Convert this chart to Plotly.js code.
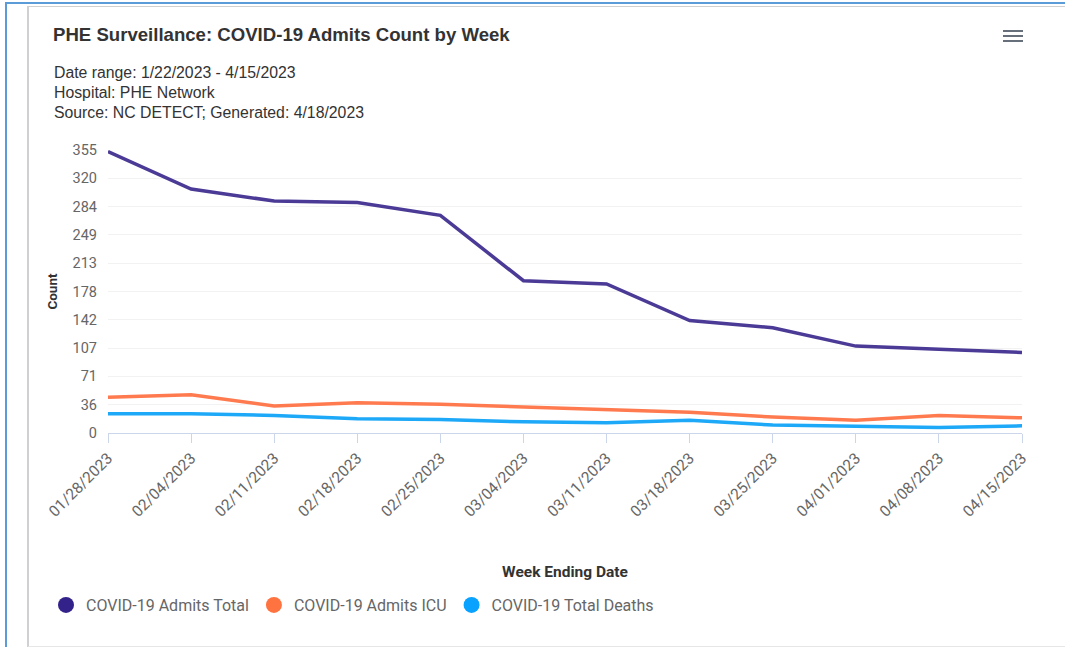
<!DOCTYPE html>
<html>
<head>
<meta charset="utf-8">
<script src="https://cdn.plot.ly/plotly-3.0.1.min.js"></script>
<style>
  html, body { margin: 0; padding: 0; background: #ffffff; width: 1065px; height: 647px; overflow: hidden; }
  #frame-blue { position: absolute; left: 5px; top: 2px; width: 1100px; height: 700px; border-top: 2px solid #5b9bd8; border-left: 2px solid #5b9bd8; box-sizing: border-box; }
  #frame-card { position: absolute; left: 27px; top: 6px; width: 1100px; height: 641px; border-top: 1px solid #d0d0d0; border-left: 2px solid #cfcfd4; border-bottom: 1px solid #e6e6e6; box-sizing: border-box; }
  #chart { position: absolute; left: 0; top: 0; width: 1065px; height: 647px; }
  .burger { position: absolute; left: 1003px; width: 20px; height: 2px; background: #666f7a; }
</style>
</head>
<body>
<div id="frame-blue"></div>
<div id="frame-card"></div>
<div id="chart"></div>
<div class="burger" style="top:30px"></div>
<div class="burger" style="top:35px"></div>
<div class="burger" style="top:40px"></div>
<script>
// ---- data ----
const weeks = ['01/28/2023','02/04/2023','02/11/2023','02/18/2023','02/25/2023','03/04/2023',
               '03/11/2023','03/18/2023','03/25/2023','04/01/2023','04/08/2023','04/15/2023'];
const admitsTotal = [353, 306, 291, 289, 273, 191, 187, 141, 132, 109, 105, 101];
const admitsICU   = [45, 48, 34, 38, 36, 33, 29, 26, 20, 16, 22, 19];
const totalDeaths = [24, 24, 22, 18, 17, 14, 13, 16, 10, 9, 7, 9];
const yTickVals = [0, 35.5, 71, 106.5, 142, 177.5, 213, 248.5, 284, 319.5, 355];
const yTickText = ['0','36','71','107','142','178','213','249','284','320','355'];
const seriesNames = ['COVID-19 Admits Total', 'COVID-19 Admits ICU', 'COVID-19 Total Deaths'];
const titleText = 'PHE Surveillance: COVID-19 Admits Count by Week';
const subtitleLines = ['Date range: 1/22/2023 - 4/15/2023', 'Hospital: PHE Network', 'Source: NC DETECT; Generated: 4/18/2023'];
const xTitle = 'Week Ending Date';
const yTitle = 'Count';

// ---- styles ----
const lineColors = ['#4b3a96', '#ff7b4f', '#1ea8f8'];
const legendColors = ['#33228a', '#ff7340', '#0aa2ff'];
const W = 1065, H = 647;
const plotL = 108, plotR = 1022, plotT = 150, plotB = 433;
const yPix = p => (plotB - p) / (plotB - plotT);
const xPix = p => (p - plotL) / (plotR - plotL);

const seriesData = [admitsTotal, admitsICU, totalDeaths];
const traces = [];
seriesData.forEach((vals, i) => {
  traces.push({
    type: 'scatter', mode: 'lines', x: weeks, y: vals, name: seriesNames[i],
    line: {color: lineColors[i], width: 3.5}, showlegend: false, legendgroup: 'g' + i,
    hoverinfo: 'x+y+name'
  });
});
seriesData.forEach((vals, i) => {
  traces.push({
    type: 'scatter', mode: 'markers', x: [null], y: [null], name: seriesNames[i],
    marker: {color: legendColors[i], size: 16, symbol: 'circle'}, legendgroup: 'g' + i,
    showlegend: true, hoverinfo: 'skip'
  });
});

const annotations = subtitleLines.map((t, i) => ({
  text: t, xref: 'paper', yref: 'paper',
  x: xPix(52), y: yPix([72, 92, 113][i]), xanchor: 'left', yanchor: 'middle',
  showarrow: false, font: {family: '"Liberation Sans", Arial, sans-serif', size: 15.8, color: '#333333'}
}));

const layout = {
  width: W, height: H,
  margin: {l: plotL, r: W - plotR, t: plotT, b: H - plotB, pad: 0},
  paper_bgcolor: 'rgba(0,0,0,0)', plot_bgcolor: 'rgba(0,0,0,0)',
  title: {
    text: titleText, xref: 'container', yref: 'container',
    x: 53 / W, xanchor: 'left', y: 1 - 34 / H, yanchor: 'middle',
    font: {family: '"Liberation Sans", Arial, sans-serif', size: 18.6, weight: 'bold', color: '#333333'}
  },
  xaxis: {
    type: 'category', range: [0, weeks.length - 1], tickangle: -45,
    showgrid: false, showline: true, linecolor: '#ccd6eb', linewidth: 1,
    ticks: 'outside', ticklen: 9, tickcolor: '#ccd6eb', tickwidth: 1,
    tickfont: {family: 'Roboto, sans-serif', size: 15.5, color: '#666666'},
    zeroline: false, automargin: false, fixedrange: true,
    title: {text: xTitle, standoff: 46, font: {family: 'Roboto, sans-serif', size: 15.5, weight: 'bold', color: '#333333'}}
  },
  yaxis: {
    range: [0, 355], tickvals: yTickVals, ticktext: yTickText,
    showgrid: true, gridcolor: '#f2f2f2', gridwidth: 1, zeroline: false, showline: false,
    ticks: '', ticklabelstandoff: 10,
    tickfont: {family: 'Roboto, sans-serif', size: 14.5, color: '#666666'},
    automargin: false, fixedrange: true,
    title: {text: yTitle, standoff: 11, font: {family: 'Roboto, sans-serif', size: 13.5, weight: 'bold', color: '#333333'}}
  },
  showlegend: true,
  legend: {
    orientation: 'h', xref: 'container', yref: 'container',
    x: 46 / W, xanchor: 'left', y: 1 - 605 / H, yanchor: 'middle',
    font: {family: 'Roboto, sans-serif', size: 16, color: '#666666'},
    itemwidth: 30, tracegroupgap: 0, bgcolor: 'rgba(0,0,0,0)'
  },
  annotations: annotations,
  hovermode: 'x unified'
};

Plotly.newPlot('chart', traces, layout, {displayModeBar: false, responsive: false});
</script>
</body>
</html>
